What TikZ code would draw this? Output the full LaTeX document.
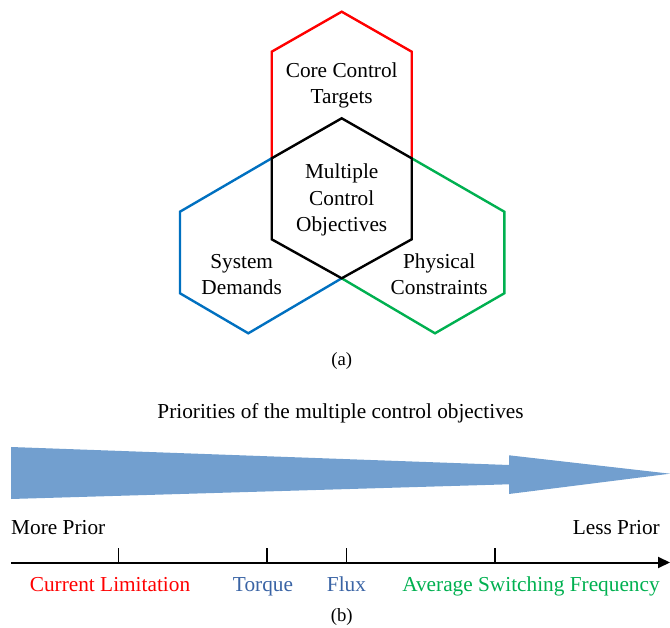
\documentclass[tikz,border=0pt]{standalone}
\usepackage{fontspec}
\setmainfont{Liberation Serif}
\usetikzlibrary{arrows.meta}
\definecolor{hexred}{RGB}{255,0,0}
\definecolor{hexblue}{RGB}{0,112,192}
\definecolor{hexgreen}{RGB}{0,176,80}
\definecolor{prioblue}{RGB}{114,159,207}
\definecolor{labblue}{RGB}{58,100,165}

\begin{document}
\begin{tikzpicture}[
    x=1pt,
    y=-1pt,
    hexline/.style={draw=#1, line width=2.4pt, line join=miter},
    lab/.style={font=\fontsize{21.3}{26.5}\selectfont, align=center, inner sep=0pt},
    caption/.style={font=\fontsize{18.7}{22}\selectfont, inner sep=0pt, anchor=base},
    axlab/.style={lab, anchor=base},
    axtick/.style={line width=1.8pt},
  ]
  \useasboundingbox (0,0) rectangle (670,628);

  % === (a) overlapping hexagons ===
  \coordinate (cT)  at (341.7,118.3);
  \coordinate (cUR) at (411.7,158.3);
  \coordinate (cLR) at (411.7,239.3);
  \coordinate (cB)  at (341.7,278.3);
  \coordinate (cLL) at (271.7,239.3);
  \coordinate (cUL) at (271.7,158.3);

  % outer cells share their inner edges with the middle one
  \draw[hexline=hexred]   (cUL) -- (271.7,51.7) -- (341.7,11.7) -- (411.7,51.7) -- (cUR);
  \draw[hexline=hexblue]  (cUL) -- (180,211.7) -- (180,293.3) -- (248.3,333.3) -- (cB);
  \draw[hexline=hexgreen] (cUR) -- (504.3,211.7) -- (504.3,293.3) -- (435,333.3) -- (cB);
  \draw[hexline=black]    (cT) -- (cUR) -- (cLR) -- (cB) -- (cLL) -- (cUL) -- cycle;

  \node[lab] (core)  at (341.7,85.4)  {Core Control\\Targets};
  \node[lab] (multi) at (341.7,200)   {Multiple\\Control\\Objectives};
  \node[lab] (sys)   at (241.7,274.4) {System\\Demands};
  \node[lab] (phys)  at (439.2,274.4) {Physical\\Constraints};

  \node[caption] (capa) at (341.7,365.3) {(a)};

  % === (b) priority scale ===
  \node[axlab] (title) at (340.5,419) {Priorities of the multiple control objectives};

  \fill[prioblue] (11,447) -- (509,465) -- (509,455.3) -- (670,473.7)
    -- (509,494) -- (509,484.3) -- (11,499) -- cycle;

  \node[axlab, anchor=base west] (more) at (11,534)  {More Prior};
  \node[axlab, anchor=base east] (less) at (660,534) {Less Prior};

  \coordinate (axL) at (11,562.5);
  \coordinate (axR) at (670,562.5);
  \draw[line width=2pt, -{Triangle[length=12pt, width=11pt]}] (axL) -- (axR);
  \foreach \x in {118.5, 267, 346.5, 495} {
    \draw[axtick] (\x,548) -- (\x,562.5);
  }

  \node[axlab, text=hexred]   (curr) at (110,591)   {Current Limitation};
  \node[axlab, text=labblue]  (torq) at (263,591)   {Torque};
  \node[axlab, text=labblue]  (flux) at (346.5,591) {Flux};
  \node[axlab, text=hexgreen] (asf)  at (531,591)   {Average Switching Frequency};

  \node[caption] (capb) at (341.7,621.5) {(b)};

\end{tikzpicture}
\end{document}
